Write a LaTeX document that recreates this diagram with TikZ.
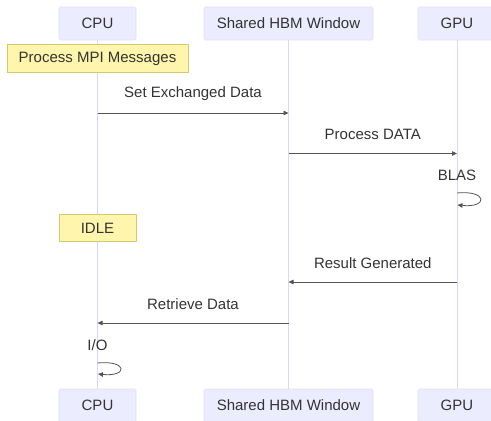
\documentclass[tikz,border=0pt]{standalone}
\usepackage{fontspec}
\setmainfont{Liberation Sans}
\usetikzlibrary{arrows.meta,positioning}
\definecolor{ink}{HTML}{333333}
\definecolor{actorfill}{HTML}{ECECFF}
\definecolor{actorline}{HTML}{E2DCF7}
\definecolor{lifeline}{HTML}{DDD4F6}
\definecolor{notefill}{HTML}{FFF5AD}
\definecolor{noteline}{HTML}{D3CA6C}
\definecolor{msgline}{HTML}{555555}

\begin{document}
\begin{tikzpicture}[
  x=1pt, y=-1pt,
  text=ink,
  actor/.style={draw=actorline, fill=actorfill, line width=.6pt, rounded corners=1.5pt,
    inner sep=0pt, minimum height=33pt, font=\fontsize{15}{18}\selectfont},
  note/.style={draw=noteline, fill=notefill, line width=.6pt,
    inner sep=0pt, minimum height=27.5pt, font=\fontsize{15}{18}\selectfont},
  life/.style={draw=lifeline, line width=.8pt},
  msg/.style={font=\fontsize{15}{18}\selectfont, inner sep=0pt},
  arrow/.style={-{Triangle[length=5pt, width=4.5pt]}, draw=msgline, line width=.8pt}
]
  \useasboundingbox (0,0) rectangle (491,421);

  % actors, top and bottom
  \node[actor, minimum width=77pt] (cpu) at (97.5,23.5) {CPU};
  \node[actor, minimum width=169pt] (hbm) at (288.5,23.5) {Shared HBM Window};
  \node[actor, minimum width=78pt] (gpu) at (457,23.5) {GPU};
  \node[actor, minimum width=77pt] (cpuB) at (97.5,405.5) {CPU};
  \node[actor, minimum width=169pt] (hbmB) at (288.5,405.5) {Shared HBM Window};
  \node[actor, minimum width=78pt] (gpuB) at (457,405.5) {GPU};

  \draw[life] (cpu.south) -- (cpuB.north);
  \draw[life] (hbm.south) -- (hbmB.north);
  \draw[life] (gpu.south) -- (gpuB.north);

  % notes
  \node[note, minimum width=181pt] (mpi) at (97.5,58.5) {Process MPI Messages};
  \node[note, minimum width=77pt] (idle) at (97.5,228) {IDLE};

  % messages
  \node[msg] (setlbl) at (193,94) {Set Exchanged Data};
  \coordinate (set1) at (97.5,113);
  \coordinate (set2) at (288.5,113);
  \draw[arrow] (set1) -- (set2);

  \node[msg] (proclbl) at (372.8,134.5) {Process DATA};
  \coordinate (proc1) at (288.5,153.5);
  \coordinate (proc2) at (457,153.5);
  \draw[arrow] (proc1) -- (proc2);

  \node[msg] (blaslbl) at (457,175.5) {BLAS};
  \coordinate (blas1) at (457,193);
  \coordinate (blas2) at (457.5,205);
  \draw[arrow] (blas1) .. controls (488,190) and (488,208) .. (blas2);

  \node[msg] (reslbl) at (372.8,263.5) {Result Generated};
  \coordinate (res1) at (457,282);
  \coordinate (res2) at (288.5,282);
  \draw[arrow] (res1) -- (res2);

  \node[msg] (getlbl) at (193,304) {Retrieve Data};
  \coordinate (get1) at (288.5,323);
  \coordinate (get2) at (97.5,323);
  \draw[arrow] (get1) -- (get2);

  \node[msg] (iolbl) at (97.5,345) {I/O};
  \coordinate (io1) at (97.5,363);
  \coordinate (io2) at (98,374);
  \draw[arrow] (io1) .. controls (128,360) and (128,377) .. (io2);
\end{tikzpicture}
\end{document}
